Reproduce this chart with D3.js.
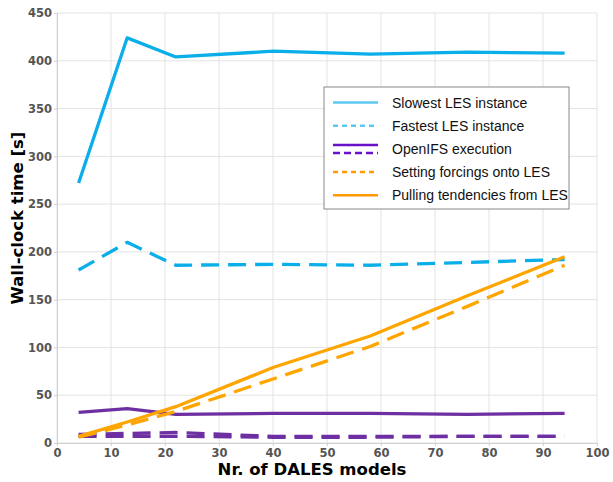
<!DOCTYPE html>
<html>
<head>
<meta charset="utf-8">
<script src="https://cdn.jsdelivr.net/npm/d3@7"></script>
<style>
  body { margin: 0; background: #fff; }
  .tick text { font-family: "DejaVu Sans", sans-serif; font-weight: bold; font-size: 11.5px; fill: #555; }
</style>
</head>
<body>
<svg id="chart" width="613" height="482"></svg>
<script>
const width = 613;
const height = 482;
const margin = { top: 13, right: 16, bottom: 39, left: 57 };

// number of DALES models
const models = [4, 13, 22, 40, 58, 76, 94];
const slowestLes = [272, 424, 404, 410, 407, 409, 408];
const fastestLes = [181, 210, 186, 187, 186, 189, 192];
const openifsSolid = [32, 36, 30, 31, 31, 30, 31];
const openifsDashA = [9, 10, 11, 7, 7, 7, 7];
const openifsDashB = [7, 7, 7, 6, 6, 7, 7];
const settingForcings = [6, 19, 33, 67, 101, 143, 186];
const pullingTendencies = [7, 22, 38, 79, 112, 154, 195];

const xTicks = [0, 10, 20, 30, 40, 50, 60, 70, 80, 90, 100];
const yTicks = [0, 50, 100, 150, 200, 250, 300, 350, 400, 450];

const legendLabels = ["Slowest LES instance", "Fastest LES instance", "OpenIFS execution",
                      "Setting forcings onto LES", "Pulling tendencies from LES"];

const blue = "#0aaee8", purple = "#6e2fa3", orange = "#ffa500";

const series = [
  { values: slowestLes, color: blue, dash: null },
  { values: fastestLes, color: blue, dash: "18,9" },
  { values: openifsSolid, color: purple, dash: null },
  { values: openifsDashA, color: purple, dash: "18,9" },
  { values: openifsDashB, color: purple, dash: "18,9" },
  { values: settingForcings, color: orange, dash: "18,9" },
  { values: pullingTendencies, color: orange, dash: null }
];

const svg = d3.select("#chart");

const x = d3.scaleLinear().domain([0, 100]).range([margin.left, width - margin.right]);
const y = d3.scaleLinear().domain([0, 450]).range([height - margin.bottom, margin.top]);

// grid
svg.append("g").selectAll("line").data(xTicks).join("line")
  .attr("x1", d => x(d)).attr("x2", d => x(d))
  .attr("y1", y(0)).attr("y2", y(450))
  .attr("stroke", "#e3e3e3").attr("stroke-width", 1);
svg.append("g").selectAll("line").data(yTicks).join("line")
  .attr("x1", x(0)).attr("x2", x(100))
  .attr("y1", d => y(d)).attr("y2", d => y(d))
  .attr("stroke", "#e3e3e3").attr("stroke-width", 1);

// axes
const xAxis = d3.axisBottom(x).tickValues(xTicks).tickSize(3).tickPadding(3);
const yAxis = d3.axisLeft(y).tickValues(yTicks).tickSize(3).tickPadding(2);

svg.append("g").attr("transform", `translate(0,${y(0)})`).call(xAxis)
  .call(g => g.selectAll(".domain, line").attr("stroke", "#d0d0d0"));
svg.append("g").attr("transform", `translate(${x(0)},0)`).call(yAxis)
  .call(g => g.selectAll(".domain, line").attr("stroke", "#d0d0d0"));

// lines
const line = d3.line().x((d, i) => x(models[i])).y(d => y(d));
svg.append("g").selectAll("path").data(series).join("path")
  .attr("d", d => line(d.values))
  .attr("fill", "none")
  .attr("stroke", d => d.color)
  .attr("stroke-width", 3.3)
  .attr("stroke-dasharray", d => d.dash)
  .attr("stroke-linejoin", "round");

// axis titles
svg.append("text")
  .attr("x", 312).attr("y", 475)
  .attr("text-anchor", "middle")
  .style("font-family", "DejaVu Sans, sans-serif").style("font-weight", "bold").style("font-size", "16.5px")
  .text("Nr. of DALES models");
svg.append("text")
  .attr("transform", "translate(23,218) rotate(-90)")
  .attr("text-anchor", "middle")
  .style("font-family", "DejaVu Sans, sans-serif").style("font-weight", "bold").style("font-size", "16.5px")
  .text("Wall-clock time [s]");

// legend
const legend = svg.append("g").attr("transform", "translate(324,87)");
legend.append("rect").attr("width", 245).attr("height", 122)
  .attr("fill", "#fff").attr("stroke", "#888").attr("stroke-width", 1);

const legendStyles = [
  [{ color: "#5bc8f5", dash: null, dy: 0 }],
  [{ color: "#5bc8f5", dash: "5,4", dy: 0 }],
  [{ color: "#6a12c9", dash: null, dy: -4 }, { color: "#6a12c9", dash: "7,4", dy: 4 }],
  [{ color: "#ff9a00", dash: "5,4", dy: 0 }],
  [{ color: "#ff9a00", dash: null, dy: 0 }]
];
const rowY = i => 15.5 + i * 23.2;
legendLabels.forEach((label, i) => {
  legendStyles[i].forEach(s => {
    legend.append("line")
      .attr("x1", 9).attr("x2", 54)
      .attr("y1", rowY(i) + s.dy).attr("y2", rowY(i) + s.dy)
      .attr("stroke", s.color).attr("stroke-width", 2.5)
      .attr("stroke-dasharray", s.dash);
  });
  legend.append("text")
    .attr("x", 68).attr("y", rowY(i) + 5)
    .style("font-family", "Liberation Sans, Arial, sans-serif").style("font-size", "14px")
    .attr("fill", "#111")
    .text(label);
});
</script>
</body>
</html>
